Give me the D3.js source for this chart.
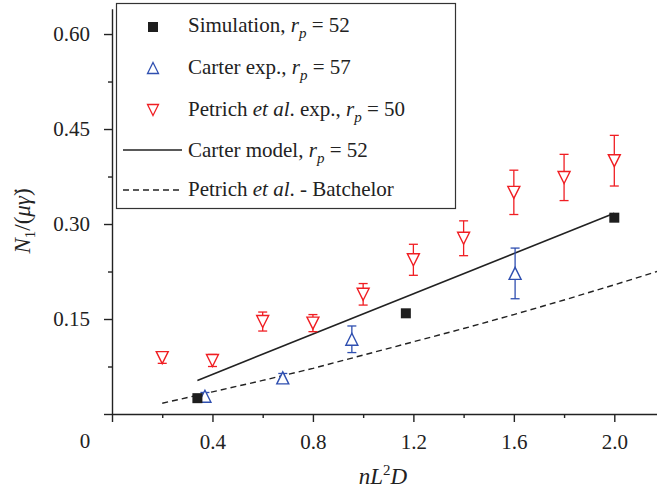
<!DOCTYPE html>
<html>
<head>
<meta charset="utf-8">
<script src="https://cdn.jsdelivr.net/npm/d3@7"></script>
<style>
  html, body { margin: 0; padding: 0; background: #fff; }
  svg { display: block; font-family: "Liberation Serif", "Times New Roman", serif; }
  .axis path, .axis line { stroke: #222; stroke-width: 1.4; }
  .axis text { font-size: 21px; fill: #222; font-family: "Liberation Serif", serif; }
</style>
</head>
<body>
<div id="chart"></div>
<script>
// ---------- data ----------
const simX = [0.34, 1.17, 2.0];
const simY = [0.025, 0.159, 0.31];

const carterX = [0.37, 0.68, 0.955, 1.605];
const carterY = [0.028, 0.057, 0.118, 0.222];
const carterErr = [0.006, 0.007, 0.021, 0.04];

const petrichX = [0.2, 0.4, 0.6, 0.8, 1.0, 1.2, 1.4, 1.6, 1.8, 2.0];
const petrichY = [0.089, 0.0845, 0.146, 0.1435, 0.189, 0.2435, 0.2775, 0.35, 0.3735, 0.40];
const petrichErr = [0.009, 0.0095, 0.015, 0.0135, 0.017, 0.0245, 0.0275, 0.035, 0.0365, 0.04];

const modelX = [0.34, 2.0];
const modelY = [0.053, 0.317];

const batchX = [0.2, 0.4, 0.6, 0.8, 1.0, 1.2, 1.4, 1.6, 1.8, 2.0, 2.17];
const batchY = [0.017, 0.035, 0.053, 0.072, 0.093, 0.114, 0.135, 0.157, 0.180, 0.204, 0.225];

const xMajor = [0, 0.4, 0.8, 1.2, 1.6, 2.0];
const xMinor = [0.2, 0.6, 1.0, 1.4, 1.8];
const yMajor = [0, 0.15, 0.30, 0.45, 0.60];
const yMinor = [0.075, 0.225, 0.375, 0.525];

const red = "#f01e23";
const blue = "#2f4fb0";

// ---------- layout ----------
const W = 657, H = 494;
const svg = d3.select("#chart").append("svg")
  .attr("width", W).attr("height", H);

const x = d3.scaleLinear().domain([0, 2.17]).range([112, 657]);
const y = d3.scaleLinear().domain([0, 0.64]).range([414, 8.7]);

// axes
const xAxis = svg.append("g").attr("class", "axis")
  .attr("transform", `translate(0,${y(0)})`)
  .call(d3.axisBottom(x).tickValues(xMajor).tickSize(8).tickSizeOuter(0)
    .tickFormat(d => d === 0 ? "" : d.toFixed(1)).tickPadding(12));
svg.append("g").attr("class", "axis")
  .attr("transform", `translate(0,${y(0)})`)
  .call(d3.axisBottom(x).tickValues(xMinor).tickSize(4).tickSizeOuter(0).tickFormat(""))
  .select(".domain").remove();

svg.append("g").attr("class", "axis")
  .attr("transform", `translate(${x(0)},0)`)
  .call(d3.axisLeft(y).tickValues(yMajor).tickSize(8).tickSizeOuter(0)
    .tickFormat(d => d === 0 ? "" : d.toFixed(2)).tickPadding(14));
svg.append("g").attr("class", "axis")
  .attr("transform", `translate(${x(0)},0)`)
  .call(d3.axisLeft(y).tickValues(yMinor).tickSize(4).tickSizeOuter(0).tickFormat(""))
  .select(".domain").remove();

// origin label
svg.append("text")
  .attr("x", x(0) - 27).attr("y", y(0) + 34)
  .attr("text-anchor", "middle")
  .attr("font-size", 21).attr("fill", "#222")
  .text("0");

// axis titles
const xt = svg.append("text")
  .attr("x", 383).attr("y", 484)
  .attr("text-anchor", "middle")
  .attr("font-size", 23).attr("fill", "#222");
xt.append("tspan").attr("font-style", "italic").text("nL");
xt.append("tspan").attr("font-size", 15).attr("dy", -9).text("2");
xt.append("tspan").attr("font-style", "italic").attr("dy", 9).text("D");

const yt = svg.append("text")
  .attr("transform", "translate(30,221) rotate(-90)")
  .attr("text-anchor", "middle")
  .attr("font-size", 23).attr("fill", "#222");
yt.append("tspan").attr("font-style", "italic").text("N");
yt.append("tspan").attr("font-size", 15).attr("dy", 5).text("1");
yt.append("tspan").attr("dy", -5).text("/(");
yt.append("tspan").attr("font-style", "italic").text("\u03bc\u03b3\u0307");
yt.append("tspan").text(")");

// ---------- lines ----------
const line = d3.line().x(d => x(d[0])).y(d => y(d[1]));

svg.append("path")
  .datum(batchX.map((v, i) => [v, batchY[i]]))
  .attr("d", line)
  .attr("fill", "none").attr("stroke", "#222")
  .attr("stroke-width", 1.4).attr("stroke-dasharray", "6,4");

svg.append("path")
  .datum(modelX.map((v, i) => [v, modelY[i]]))
  .attr("d", line)
  .attr("fill", "none").attr("stroke", "#222").attr("stroke-width", 1.6);

// ---------- markers ----------
const tri = (up, s) => up
  ? `M0,${-s / 2}L${s / 2},${s / 2}L${-s / 2},${s / 2}Z`
  : `M0,${s / 2}L${s / 2},${-s / 2}L${-s / 2},${-s / 2}Z`;

function errorBars(xs, ys, errs, color) {
  const g = svg.append("g").attr("stroke", color).attr("stroke-width", 1.3);
  xs.forEach((v, i) => {
    const cx = x(v), y0 = y(ys[i] - errs[i]), y1 = y(ys[i] + errs[i]);
    g.append("line").attr("x1", cx).attr("x2", cx).attr("y1", y0).attr("y2", y1);
    g.append("line").attr("x1", cx - 4.5).attr("x2", cx + 4.5).attr("y1", y0).attr("y2", y0);
    g.append("line").attr("x1", cx - 4.5).attr("x2", cx + 4.5).attr("y1", y1).attr("y2", y1);
  });
}

errorBars(petrichX, petrichY, petrichErr, red);
errorBars(carterX, carterY, carterErr, blue);

svg.append("g").selectAll("path")
  .data(petrichX.map((v, i) => [v, petrichY[i]]))
  .join("path")
  .attr("transform", d => `translate(${x(d[0])},${y(d[1])})`)
  .attr("d", tri(false, 12))
  .attr("fill", "#fff").attr("stroke", red).attr("stroke-width", 1.4);

svg.append("g").selectAll("path")
  .data(carterX.map((v, i) => [v, carterY[i]]))
  .join("path")
  .attr("transform", d => `translate(${x(d[0])},${y(d[1])})`)
  .attr("d", tri(true, 12))
  .attr("fill", "#fff").attr("stroke", blue).attr("stroke-width", 1.4);

svg.append("g").selectAll("rect")
  .data(simX.map((v, i) => [v, simY[i]]))
  .join("rect")
  .attr("x", d => x(d[0]) - 5).attr("y", d => y(d[1]) - 5)
  .attr("width", 10).attr("height", 10)
  .attr("fill", "#1e1e1e");

// ---------- legend ----------
const leg = svg.append("g");
leg.append("rect")
  .attr("x", 116.5).attr("y", 3.5).attr("width", 339).attr("height", 205)
  .attr("fill", "#fff").attr("stroke", "#333").attr("stroke-width", 1.2);

const legendRows = [
  { parts: [["Simulation, ", 0], ["r", 1], ["p", 2], [" = 52", 0]], base: 32 },
  { parts: [["Carter exp., ", 0], ["r", 1], ["p", 2], [" = 57", 0]], base: 74 },
  { parts: [["Petrich ", 0], ["et al", 1], [". exp., ", 0], ["r", 1], ["p", 2], [" = 50", 0]], base: 116 },
  { parts: [["Carter model, ", 0], ["r", 1], ["p", 2], [" = 52", 0]], base: 157 },
  { parts: [["Petrich ", 0], ["et al", 1], [". - Batchelor", 0]], base: 196 }
];

legendRows.forEach(row => {
  const t = leg.append("text")
    .attr("x", 188).attr("y", row.base)
    .attr("font-size", 21).attr("fill", "#222");
  let sub = false;
  row.parts.forEach(([s, k]) => {
    const ts = t.append("tspan").text(s);
    if (k >= 1) ts.attr("font-style", "italic");
    if (k === 2) { ts.attr("font-size", 15).attr("dy", 6); sub = true; }
    else if (sub) { ts.attr("dy", -6); sub = false; }
  });
});

leg.append("rect").attr("x", 148).attr("y", 22).attr("width", 10).attr("height", 10).attr("fill", "#1e1e1e");
leg.append("path").attr("transform", "translate(153,68)").attr("d", tri(true, 11))
  .attr("fill", "#fff").attr("stroke", blue).attr("stroke-width", 1.3);
leg.append("path").attr("transform", "translate(153,110)").attr("d", tri(false, 11))
  .attr("fill", "#fff").attr("stroke", red).attr("stroke-width", 1.3);
leg.append("line").attr("x1", 123).attr("x2", 182).attr("y1", 150).attr("y2", 150)
  .attr("stroke", "#222").attr("stroke-width", 1.6);
leg.append("line").attr("x1", 123).attr("x2", 182).attr("y1", 190).attr("y2", 190)
  .attr("stroke", "#222").attr("stroke-width", 1.4).attr("stroke-dasharray", "6,4");
</script>
</body>
</html>
